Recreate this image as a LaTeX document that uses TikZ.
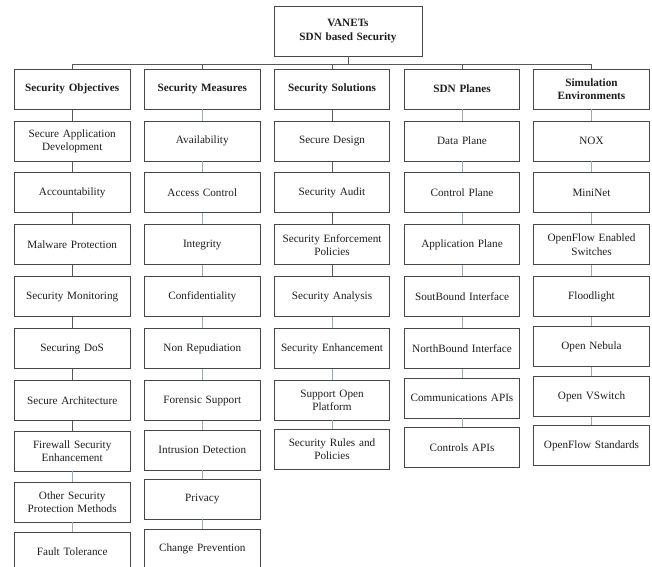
\documentclass[tikz,border=0pt]{standalone}
\usepackage{fontspec}
\setmainfont{Liberation Serif}
\begin{document}
\begin{tikzpicture}[x=1pt,y=-1pt,
  box/.style={draw=black!72, line width=0.9pt, fill=white, text=black!88,
    minimum width=115.5pt, minimum height=40pt, inner sep=1pt,
    text width=113pt, align=center, font=\fontsize{11.2}{13.3}\selectfont},
  hbox/.style={box, font=\fontsize{11.2}{13.3}\selectfont\bfseries},
  dk/.style={draw=black!65, line width=0.9pt},
  lt/.style={draw={rgb,255:red,150;green,172;blue,188}, line width=0.9pt}]
\useasboundingbox (0,0) rectangle (652,566);
\clip (0,0) rectangle (652,566);
% top
\node[hbox, minimum width=148pt, minimum height=50pt, text width=140pt] (top) at (348,31) {VANETs\\SDN based Security};
% headers
\node[hbox] (h1) at (72.2,89) {Security Objectives};
\node[hbox] (h2) at (202.3,89) {Security Measures};
\node[hbox] (h3) at (332,89) {Security Solutions};
\node[hbox] (h4) at (462,89) {SDN Planes};
\node[hbox] (h5) at (591.5,89) {Simulation\\Environments};
% bus
\coordinate (bL) at (72.2,64);
\coordinate (bR) at (591.5,64);
\coordinate (bT) at (348,64);
\draw[dk] (bL) -- (bR);
\draw[dk] (top) -- (bT);
\foreach \h in {h1,h2,h3,h4,h5} \draw[dk] (\h) -- (\h |- bL);
% column 1
\node[box] (a1) at (72.2,141) {Secure Application\\Development};
\node[box] (a2) at (72.2,192.6) {Accountability};
\node[box] (a3) at (72.2,244.8) {Malware Protection};
\node[box] (a4) at (72.2,296.8) {Security Monitoring};
\node[box] (a5) at (72.2,348.6) {Securing DoS};
\node[box] (a6) at (72.2,400.5) {Secure Architecture};
\node[box] (a7) at (72.2,451) {Firewall Security\\Enhancement};
\node[box] (a8) at (72.2,502) {Other Security\\Protection Methods};
\node[box] (a9) at (72.2,552) {Fault Tolerance};
% column 2
\node[box] (b1) at (202.3,141) {Availability};
\node[box] (b2) at (202.3,192.6) {Access Control};
\node[box] (b3) at (202.3,244.8) {Integrity};
\node[box] (b4) at (202.3,296.8) {Confidentiality};
\node[box] (b5) at (202.3,348.6) {Non Repudiation};
\node[box] (b6) at (202.3,400.5) {Forensic Support};
\node[box] (b7) at (202.3,450) {Intrusion Detection};
\node[box] (b8) at (202.3,499) {Privacy};
\node[box] (b9) at (202.3,549) {Change Prevention};
% column 3
\node[box] (c1) at (332,141) {Secure Design};
\node[box] (c2) at (332,192.6) {Security Audit};
\node[box] (c3) at (332,244.8) {Security Enforcement\\Policies};
\node[box] (c4) at (332,296.8) {Security Analysis};
\node[box] (c5) at (332,348.6) {Security Enhancement};
\node[box] (c6) at (332,400) {Support Open\\Platform};
\node[box] (c7) at (332,449.5) {Security Rules and\\Policies};
% column 4
\node[box] (d1) at (462,141) {Data Plane};
\node[box] (d2) at (462,192.6) {Control Plane};
\node[box] (d3) at (462,244.8) {Application Plane};
\node[box] (d4) at (462,296.8) {SoutBound Interface};
\node[box] (d5) at (462,348.6) {NorthBound Interface};
\node[box] (d6) at (462,398) {Communications APIs};
\node[box] (d7) at (462,447.3) {Controls APIs};
% column 5
\node[box] (e1) at (591.5,141) {NOX};
\node[box] (e2) at (591.5,192.6) {MiniNet};
\node[box] (e3) at (591.5,244.8) {OpenFlow Enabled\\Switches};
\node[box] (e4) at (591.5,296.8) {Floodlight};
\node[box] (e5) at (591.5,346.3) {Open Nebula};
\node[box] (e6) at (591.5,396.5) {Open VSwitch};
\node[box] (e7) at (591.5,445.3) {OpenFlow Standards};
% connectors
\draw[dk] (h1) -- (a1);
\draw[dk] (a1) -- (a2);
\draw[dk] (a2) -- (a3);
\draw[dk] (a3) -- (a4);
\draw[dk] (a4) -- (a5);
\draw[dk] (a5) -- (a6);
\draw[dk] (a6) -- (a7);
\draw[lt] (a7) -- (a8);
\draw[lt] (a8) -- (a9);
\draw[lt] (h2) -- (b1);
\draw[lt] (b1) -- (b2);
\draw[lt] (b2) -- (b3);
\draw[lt] (b3) -- (b4);
\draw[lt] (b4) -- (b5);
\draw[lt] (b5) -- (b6);
\draw[lt] (b6) -- (b7);
\draw[lt] (b7) -- (b8);
\draw[lt] (b8) -- (b9);
\draw[dk] (h3) -- (c1);
\draw[dk] (c1) -- (c2);
\draw[dk] (c2) -- (c3);
\draw[dk] (c3) -- (c4);
\draw[lt] (c4) -- (c5);
\draw[lt] (c5) -- (c6);
\draw[lt] (c6) -- (c7);
\draw[lt] (h4) -- (d1);
\draw[lt] (d1) -- (d2);
\draw[lt] (d2) -- (d3);
\draw[lt] (d3) -- (d4);
\draw[lt] (d4) -- (d5);
\draw[lt] (d5) -- (d6);
\draw[lt] (d6) -- (d7);
\draw[lt] (h5) -- (e1);
\draw[lt] (e1) -- (e2);
\draw[lt] (e2) -- (e3);
\draw[lt] (e3) -- (e4);
\draw[lt] (e4) -- (e5);
\draw[lt] (e5) -- (e6);
\draw[lt] (e6) -- (e7);
\end{tikzpicture}
\end{document}
